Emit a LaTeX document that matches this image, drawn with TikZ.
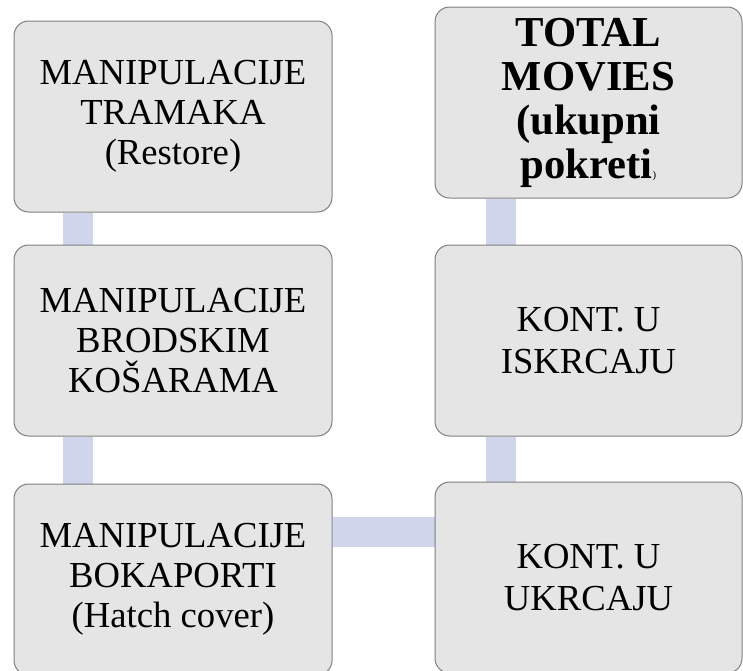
\documentclass[tikz,border=0pt]{standalone}
\usepackage{fontspec}
\setmainfont{Liberation Serif}
\usetikzlibrary{backgrounds}

\definecolor{panelfill}{HTML}{E5E5E5}
\definecolor{paneldraw}{HTML}{7F7F7F}
\definecolor{linkblue}{HTML}{CFD5EA}

\tikzset{
    panel/.style={draw=paneldraw, line width=0.75pt, fill=panelfill, rounded corners=11pt,
        align=center, inner sep=0pt, font=\fontsize{27.5}{30}\selectfont},
    leftpanel/.style={panel, minimum width=238.5pt, minimum height=143.25pt},
    rightpanel/.style={panel, minimum width=230.25pt, minimum height=143.25pt},
    link/.style={draw=linkblue, line width=22.5pt},
}

\begin{document}
\begin{tikzpicture}[x=0.75pt,y=-0.75pt]
    \useasboundingbox (0,0) rectangle (743,671);

    \node [leftpanel] (tramaka) at (173,116.5) {MANIPULACIJE\\TRAMAKA\\(Restore)};
    \node [leftpanel] (kosare) at (173,340.5) {MANIPULACIJE\\BRODSKIM\\KOŠARAMA};
    \node [leftpanel] (bokaporti) at (173,579.5) {MANIPULACIJE\\BOKAPORTI\\(Hatch cover)};

    \node [rightpanel, font=\fontsize{32}{33}\selectfont\bfseries] (total) at (588.5,102.5)
        {TOTAL\\MOVIES\\(ukupni\\pokreti{\fontsize{8}{8}\selectfont\mdseries )}};
    \node [rightpanel, font=\fontsize{27.5}{32}\selectfont] (iskrcaj) at (588.5,340.5) {KONT. U\\ISKRCAJU};
    \node [rightpanel, font=\fontsize{27.5}{32}\selectfont] (ukrcaj) at (588.5,577.5) {KONT. U\\UKRCAJU};

    \coordinate (h) at ([yshift=36pt]bokaporti.east);

    \begin{scope}[on background layer]
        \draw [link] ([xshift=-71.25pt]tramaka.south) -- ([xshift=-71.25pt]kosare.north);
        \draw [link] ([xshift=-71.25pt]kosare.south) -- ([xshift=-71.25pt]bokaporti.north);
        \draw [link] (h) -- (h -| ukrcaj.west);
        \draw [link] ([xshift=-66pt]ukrcaj.north) -- ([xshift=-66pt]iskrcaj.south);
        \draw [link] ([xshift=-66pt]iskrcaj.north) -- ([xshift=-66pt]total.south);
    \end{scope}
\end{tikzpicture}
\end{document}
